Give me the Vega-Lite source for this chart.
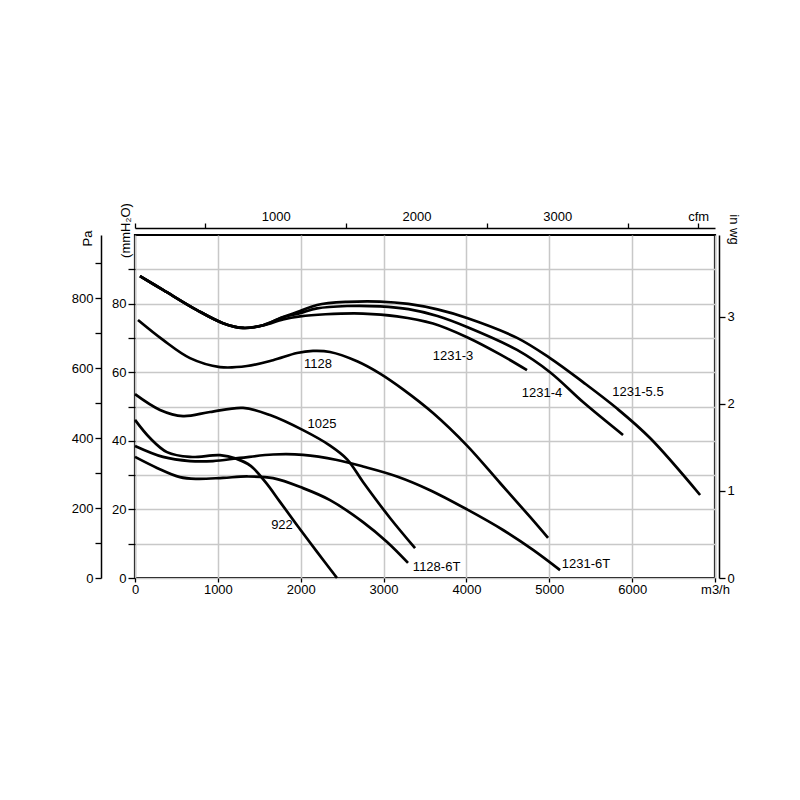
{
  "$schema": "https://vega.github.io/schema/vega-lite/v6.json",
  "width": 580,
  "height": 343,
  "autosize": {"type": "none"},
  "padding": {"left": 135, "top": 235, "right": 85, "bottom": 222},
  "background": "white",
  "config": {
    "view": {"stroke": "black", "strokeWidth": 2.2},
    "font": "Liberation Sans",
    "axis": {
      "labelFont": "Liberation Sans",
      "labelFontSize": 13,
      "labelColor": "black",
      "titleFont": "Liberation Sans",
      "titleFontWeight": "normal",
      "titleFontSize": 13,
      "titleColor": "black",
      "domainColor": "black",
      "tickColor": "black",
      "tickWidth": 1.3
    }
  },
  "datasets": {
    "curves": [
      {"fan": "1231-5.5", "flow": 60, "pressure": 88.0},
      {"fan": "1231-5.5", "flow": 338, "pressure": 84.0},
      {"fan": "1231-5.5", "flow": 748, "pressure": 78.1},
      {"fan": "1231-5.5", "flow": 1062, "pressure": 74.3},
      {"fan": "1231-5.5", "flow": 1304, "pressure": 72.9},
      {"fan": "1231-5.5", "flow": 1545, "pressure": 73.7},
      {"fan": "1231-5.5", "flow": 1787, "pressure": 76.1},
      {"fan": "1231-5.5", "flow": 1992, "pressure": 77.8},
      {"fan": "1231-5.5", "flow": 2197, "pressure": 79.6},
      {"fan": "1231-5.5", "flow": 2559, "pressure": 80.5},
      {"fan": "1231-5.5", "flow": 2957, "pressure": 80.6},
      {"fan": "1231-5.5", "flow": 3300, "pressure": 79.9},
      {"fan": "1231-5.5", "flow": 3650, "pressure": 78.3},
      {"fan": "1231-5.5", "flow": 4007, "pressure": 75.8},
      {"fan": "1231-5.5", "flow": 4611, "pressure": 70.0},
      {"fan": "1231-5.5", "flow": 5009, "pressure": 64.1},
      {"fan": "1231-5.5", "flow": 5407, "pressure": 57.1},
      {"fan": "1231-5.5", "flow": 5818, "pressure": 49.4},
      {"fan": "1231-5.5", "flow": 6216, "pressure": 40.8},
      {"fan": "1231-5.5", "flow": 6820, "pressure": 24.2},

      {"fan": "1231-4", "flow": 60, "pressure": 88.0},
      {"fan": "1231-4", "flow": 338, "pressure": 84.0},
      {"fan": "1231-4", "flow": 748, "pressure": 78.1},
      {"fan": "1231-4", "flow": 1062, "pressure": 74.3},
      {"fan": "1231-4", "flow": 1304, "pressure": 72.9},
      {"fan": "1231-4", "flow": 1545, "pressure": 73.7},
      {"fan": "1231-4", "flow": 1787, "pressure": 76.0},
      {"fan": "1231-4", "flow": 1992, "pressure": 77.2},
      {"fan": "1231-4", "flow": 2197, "pressure": 78.6},
      {"fan": "1231-4", "flow": 2559, "pressure": 79.3},
      {"fan": "1231-4", "flow": 2957, "pressure": 79.2},
      {"fan": "1231-4", "flow": 3300, "pressure": 78.4},
      {"fan": "1231-4", "flow": 3650, "pressure": 76.4},
      {"fan": "1231-4", "flow": 4007, "pressure": 73.2},
      {"fan": "1231-4", "flow": 4611, "pressure": 66.5},
      {"fan": "1231-4", "flow": 5009, "pressure": 60.0},
      {"fan": "1231-4", "flow": 5407, "pressure": 51.3},
      {"fan": "1231-4", "flow": 5890, "pressure": 41.7},

      {"fan": "1231-3", "flow": 60, "pressure": 88.0},
      {"fan": "1231-3", "flow": 338, "pressure": 84.0},
      {"fan": "1231-3", "flow": 748, "pressure": 78.1},
      {"fan": "1231-3", "flow": 1062, "pressure": 74.3},
      {"fan": "1231-3", "flow": 1304, "pressure": 72.9},
      {"fan": "1231-3", "flow": 1545, "pressure": 73.6},
      {"fan": "1231-3", "flow": 1787, "pressure": 75.4},
      {"fan": "1231-3", "flow": 1992, "pressure": 76.3},
      {"fan": "1231-3", "flow": 2300, "pressure": 76.9},
      {"fan": "1231-3", "flow": 2752, "pressure": 77.1},
      {"fan": "1231-3", "flow": 3162, "pressure": 76.3},
      {"fan": "1231-3", "flow": 3597, "pressure": 74.2},
      {"fan": "1231-3", "flow": 4007, "pressure": 70.2},
      {"fan": "1231-3", "flow": 4406, "pressure": 65.2},
      {"fan": "1231-3", "flow": 4731, "pressure": 60.6},

      {"fan": "1128", "flow": 36, "pressure": 75.2},
      {"fan": "1128", "flow": 338, "pressure": 69.4},
      {"fan": "1128", "flow": 664, "pressure": 64.1},
      {"fan": "1128", "flow": 1026, "pressure": 61.5},
      {"fan": "1128", "flow": 1352, "pressure": 61.8},
      {"fan": "1128", "flow": 1666, "pressure": 63.5},
      {"fan": "1128", "flow": 1955, "pressure": 65.6},
      {"fan": "1128", "flow": 2148, "pressure": 66.2},
      {"fan": "1128", "flow": 2354, "pressure": 65.9},
      {"fan": "1128", "flow": 2680, "pressure": 63.2},
      {"fan": "1128", "flow": 2957, "pressure": 59.6},
      {"fan": "1128", "flow": 3235, "pressure": 55.0},
      {"fan": "1128", "flow": 3597, "pressure": 48.1},
      {"fan": "1128", "flow": 4007, "pressure": 38.6},
      {"fan": "1128", "flow": 4406, "pressure": 27.7},
      {"fan": "1128", "flow": 4768, "pressure": 17.8},
      {"fan": "1128", "flow": 4985, "pressure": 11.7},

      {"fan": "1025", "flow": 0, "pressure": 53.6},
      {"fan": "1025", "flow": 302, "pressure": 49.0},
      {"fan": "1025", "flow": 579, "pressure": 47.2},
      {"fan": "1025", "flow": 905, "pressure": 48.4},
      {"fan": "1025", "flow": 1304, "pressure": 49.6},
      {"fan": "1025", "flow": 1629, "pressure": 47.5},
      {"fan": "1025", "flow": 2028, "pressure": 43.1},
      {"fan": "1025", "flow": 2354, "pressure": 38.6},
      {"fan": "1025", "flow": 2560, "pressure": 34.6},
      {"fan": "1025", "flow": 2752, "pressure": 28.0},
      {"fan": "1025", "flow": 3078, "pressure": 17.5},
      {"fan": "1025", "flow": 3380, "pressure": 8.7},

      {"fan": "922", "flow": 0, "pressure": 46.1},
      {"fan": "922", "flow": 181, "pressure": 40.8},
      {"fan": "922", "flow": 386, "pressure": 36.7},
      {"fan": "922", "flow": 664, "pressure": 35.3},
      {"fan": "922", "flow": 1026, "pressure": 35.8},
      {"fan": "922", "flow": 1220, "pressure": 34.8},
      {"fan": "922", "flow": 1400, "pressure": 32.6},
      {"fan": "922", "flow": 1580, "pressure": 27.8},
      {"fan": "922", "flow": 1750, "pressure": 22.2},
      {"fan": "922", "flow": 1956, "pressure": 15.4},
      {"fan": "922", "flow": 2197, "pressure": 7.6},
      {"fan": "922", "flow": 2438, "pressure": 0},

      {"fan": "1128-6T", "flow": 0, "pressure": 35.3},
      {"fan": "1128-6T", "flow": 266, "pressure": 32.1},
      {"fan": "1128-6T", "flow": 543, "pressure": 29.4},
      {"fan": "1128-6T", "flow": 748, "pressure": 28.9},
      {"fan": "1128-6T", "flow": 1062, "pressure": 29.2},
      {"fan": "1128-6T", "flow": 1352, "pressure": 29.6},
      {"fan": "1128-6T", "flow": 1666, "pressure": 29.1},
      {"fan": "1128-6T", "flow": 2028, "pressure": 26.2},
      {"fan": "1128-6T", "flow": 2354, "pressure": 22.7},
      {"fan": "1128-6T", "flow": 2752, "pressure": 16.3},
      {"fan": "1128-6T", "flow": 3042, "pressure": 10.5},
      {"fan": "1128-6T", "flow": 3295, "pressure": 4.4},

      {"fan": "1231-6T", "flow": 0, "pressure": 38.5},
      {"fan": "1231-6T", "flow": 338, "pressure": 35.3},
      {"fan": "1231-6T", "flow": 664, "pressure": 34.1},
      {"fan": "1231-6T", "flow": 941, "pressure": 34.1},
      {"fan": "1231-6T", "flow": 1267, "pressure": 35.0},
      {"fan": "1231-6T", "flow": 1666, "pressure": 36.0},
      {"fan": "1231-6T", "flow": 2028, "pressure": 35.9},
      {"fan": "1231-6T", "flow": 2438, "pressure": 34.4},
      {"fan": "1231-6T", "flow": 2752, "pressure": 32.5},
      {"fan": "1231-6T", "flow": 3162, "pressure": 29.6},
      {"fan": "1231-6T", "flow": 3561, "pressure": 25.6},
      {"fan": "1231-6T", "flow": 4007, "pressure": 20.0},
      {"fan": "1231-6T", "flow": 4442, "pressure": 14.0},
      {"fan": "1231-6T", "flow": 4804, "pressure": 8.2},
      {"fan": "1231-6T", "flow": 5130, "pressure": 2.3}
    ],
    "labels": [
      {"fan": "1231-3", "flow": 3838, "pressure": 64.7},
      {"fan": "1231-4", "flow": 4912, "pressure": 53.9},
      {"fan": "1231-5.5", "flow": 6071, "pressure": 54.2},
      {"fan": "1128", "flow": 2209, "pressure": 62.4},
      {"fan": "1025", "flow": 2257, "pressure": 44.9},
      {"fan": "922", "flow": 1774, "pressure": 15.4},
      {"fan": "1128-6T", "flow": 3640, "pressure": 3.2},
      {"fan": "1231-6T", "flow": 5444, "pressure": 4.1}
    ],
    "cfmRange": [{"cfm": 0}, {"cfm": 4120.07}],
    "paRange": [{"pa": 0}, {"pa": 980.665}],
    "inwgRange": [{"inwg": 0}, {"inwg": 3.937}]
  },
  "resolve": {"scale": {"x": "independent", "y": "independent"}},
  "layer": [
    {
      "data": {"name": "curves"},
      "mark": {"type": "line", "color": "black", "strokeWidth": 2.7, "interpolate": "catmull-rom"},
      "encoding": {
        "x": {
          "field": "flow", "type": "quantitative",
          "scale": {"domain": [0, 7000], "nice": false},
          "axis": {
            "orient": "bottom",
            "values": [0, 1000, 2000, 3000, 4000, 5000, 6000, 7000],
            "format": "d",
            "labelExpr": "datum.value == 7000 ? 'm3/h' : datum.label",
            "title": null,
            "grid": true, "gridColor": "#c8c8c8", "gridWidth": 1.5,
            "domain": false, "tickSize": 4, "labelPadding": 1,
            "labelFlush": false, "labelOverlap": false
          }
        },
        "y": {
          "field": "pressure", "type": "quantitative",
          "scale": {"domain": [0, 100], "nice": false},
          "axis": {
            "orient": "left",
            "values": [0, 10, 20, 30, 40, 50, 60, 70, 80, 90],
            "labelExpr": "datum.value % 20 == 0 ? datum.label : ''",
            "title": "(mmH₂O)",
            "titleAngle": -90, "titleX": -10, "titleY": -5,
            "titleAlign": "center", "titleBaseline": "middle",
            "grid": true, "gridColor": "#c8c8c8", "gridWidth": 1.5,
            "domain": false, "tickSize": 7, "labelPadding": 2,
            "labelFlush": false, "labelOverlap": false
          }
        },
        "detail": {"field": "fan", "type": "nominal"}
      }
    },
    {
      "data": {"name": "labels"},
      "mark": {"type": "text", "font": "Liberation Sans", "fontSize": 13, "color": "black", "align": "center", "baseline": "middle"},
      "encoding": {
        "x": {"field": "flow", "type": "quantitative", "scale": {"domain": [0, 7000], "nice": false}, "axis": null},
        "y": {"field": "pressure", "type": "quantitative", "scale": {"domain": [0, 100], "nice": false}, "axis": null},
        "text": {"field": "fan", "type": "nominal"}
      }
    },
    {
      "data": {"name": "cfmRange"},
      "mark": {"type": "rule", "opacity": 0},
      "encoding": {
        "x": {
          "field": "cfm", "type": "quantitative",
          "scale": {"domain": [0, 4120.07], "nice": false},
          "axis": {
            "orient": "top", "offset": 7,
            "values": [0, 500, 1000, 1500, 2000, 2500, 3000, 3500, 4000],
            "format": "d",
            "labelExpr": "datum.value == 4000 ? 'cfm' : (datum.value % 1000 == 0 && datum.value > 0 ? datum.label : '')",
            "title": null, "grid": false,
            "domainWidth": 1.3, "tickSize": 5, "labelPadding": 0,
            "tickOpacity": {"condition": {"test": "datum.value % 1000 == 0 && datum.value > 0 && datum.value < 4000", "value": 0}, "value": 1},
            "labelFlush": false, "labelOverlap": false
          }
        }
      }
    },
    {
      "data": {"name": "paRange"},
      "mark": {"type": "rule", "opacity": 0},
      "encoding": {
        "y": {
          "field": "pa", "type": "quantitative",
          "scale": {"domain": [0, 980.665], "nice": false},
          "axis": {
            "orient": "left", "offset": 34,
            "values": [0, 100, 200, 300, 400, 500, 600, 700, 800, 900],
            "labelExpr": "datum.value % 200 == 0 ? datum.label : ''",
            "title": "Pa", "titleAngle": -90, "titleX": -14, "titleY": 3,
            "titleAlign": "center", "titleBaseline": "middle",
            "grid": false, "domainWidth": 1.5, "tickSize": 6, "labelPadding": 2,
            "labelFlush": false, "labelOverlap": false
          }
        }
      }
    },
    {
      "data": {"name": "inwgRange"},
      "mark": {"type": "rule", "opacity": 0},
      "encoding": {
        "y": {
          "field": "inwg", "type": "quantitative",
          "scale": {"domain": [0, 3.937], "nice": false},
          "axis": {
            "orient": "right", "offset": 4,
            "values": [0, 0.5, 1, 1.5, 2, 2.5, 3, 3.5],
            "format": "d",
            "labelExpr": "datum.value % 1 == 0 ? datum.label : ''",
            "title": "in wg", "titleAngle": 90, "titleX": 14, "titleY": -6,
            "titleAlign": "center", "titleBaseline": "middle",
            "grid": false, "domainWidth": 1.5, "tickSize": 6, "labelPadding": 2,
            "labelFlush": false, "labelOverlap": false
          }
        }
      }
    }
  ]
}
